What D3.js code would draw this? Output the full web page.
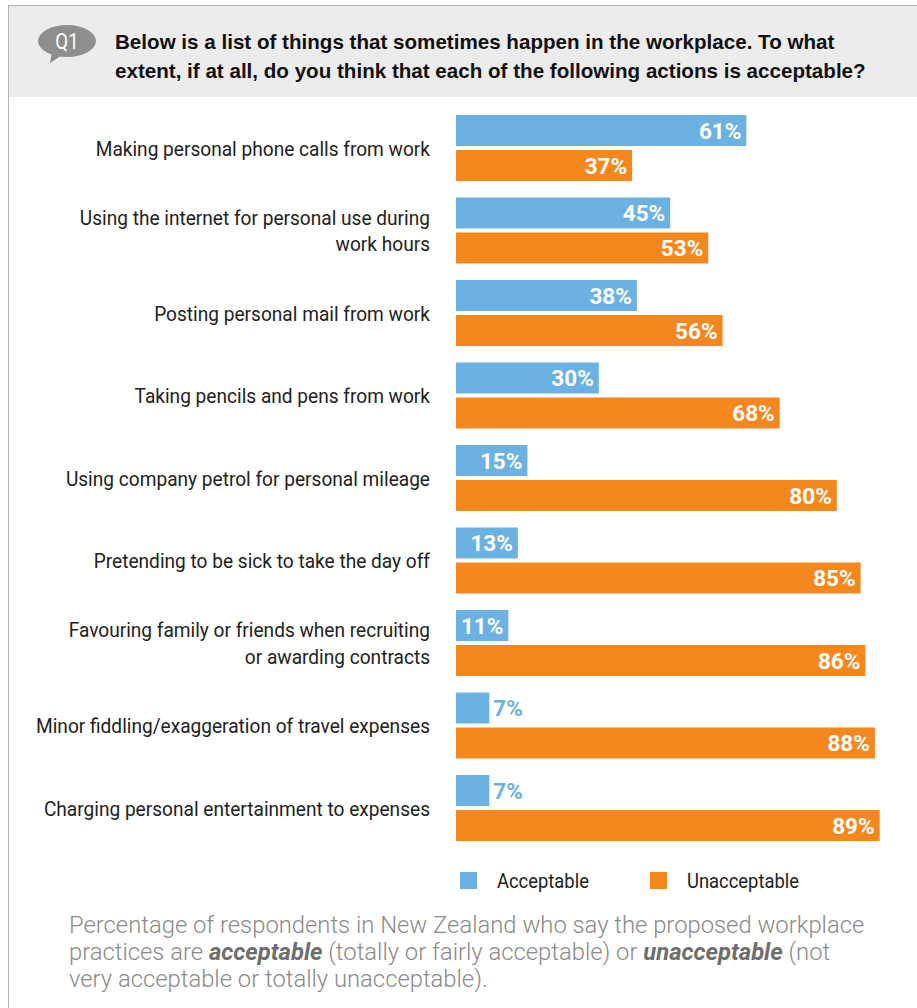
<!DOCTYPE html>
<html>
<head>
<meta charset="utf-8">
<script src="https://cdn.jsdelivr.net/npm/d3@7"></script>
<style>
  body { margin: 0; background: #fff; }
  svg { display: block; }
</style>
</head>
<body>
<div id="chart"></div>
<script>
// data
var categories = [
  ["Making personal phone calls from work"],
  ["Using the internet for personal use during", "work hours"],
  ["Posting personal mail from work"],
  ["Taking pencils and pens from work"],
  ["Using company petrol for personal mileage"],
  ["Pretending to be sick to take the day off"],
  ["Favouring family or friends when recruiting", "or awarding contracts"],
  ["Minor fiddling/exaggeration of travel expenses"],
  ["Charging personal entertainment to expenses"]
];
var acceptable   = [61, 45, 38, 30, 15, 13, 11, 7, 7];
var unacceptable = [37, 53, 56, 68, 80, 85, 86, 88, 89];
var seriesNames  = ["Acceptable", "Unacceptable"];

var width = 917, height = 1008;
var blue = "#6bb2e2", orange = "#f5871f";
var labelFont = "Roboto, 'Liberation Sans', sans-serif";

var svg = d3.select("#chart")
  .append("svg")
    .attr("width", width)
    .attr("height", height);

// frame + header band
svg.append("rect")
  .attr("x", 8.5).attr("y", 5.5)
  .attr("width", width).attr("height", height)
  .attr("fill", "#fff")
  .attr("stroke", "#b5b5b5");
svg.append("rect")
  .attr("x", 9).attr("y", 6)
  .attr("width", width).attr("height", 91)
  .attr("fill", "#ececec");

// Q1 speech bubble
svg.append("path")
  .attr("d", "M52,52 L50,63 L62,55 Z")
  .attr("fill", "#8e8e8e");
svg.append("ellipse")
  .attr("cx", 67).attr("cy", 41)
  .attr("rx", 29).attr("ry", 16)
  .attr("fill", "#8e8e8e");
svg.append("text")
  .attr("transform", "translate(67,49) scale(0.85,1)")
  .attr("text-anchor", "middle")
  .attr("fill", "#fff")
  .style("font-family", labelFont)
  .style("font-size", "22px")
  .text("Q1");

var title = ["Below is a list of things that sometimes happen in the workplace. To what",
             "extent, if at all, do you think that each of the following actions is acceptable?"];
svg.append("text")
  .attr("x", 115).attr("y", 49)
  .style("font-family", "'Liberation Sans', Arial, sans-serif")
  .style("font-size", "20.6px")
  .style("font-weight", "bold")
  .attr("fill", "#111")
  .selectAll("tspan")
  .data(title)
  .enter()
  .append("tspan")
    .attr("x", 115)
    .attr("dy", function(d, i) { return i == 0 ? 0 : 29; })
    .text(function(d) { return d; });

// scales
var x = d3.scaleLinear()
  .domain([0, 100])
  .range([456, 932]);

var y = d3.scaleBand()
  .domain(d3.range(categories.length))
  .range([115, 115 + 82.5 * categories.length]);

var barH = 31, gap = 4;

var groups = svg.selectAll(".grp")
  .data(categories)
  .enter()
  .append("g")
    .attr("class", "grp");

// category labels
groups.append("text")
  .attr("text-anchor", "end")
  .attr("fill", "#222")
  .style("font-family", labelFont)
  .style("font-size", "21px")
  .attr("transform", function(d, i) {
    var cy = y(i) + barH + gap / 2;
    return "translate(430," + cy + ") scale(0.91,1)";
  })
  .selectAll("tspan")
  .data(function(d) { return d; })
  .enter()
  .append("tspan")
    .attr("x", 0)
    .attr("y", function(d, j, nodes) {
      var n = nodes.length;
      return (j - (n - 1) / 2) * 27 + 7.5;
    })
    .text(function(d) { return d; });

// bars
groups.append("rect")
  .attr("x", x(0))
  .attr("y", function(d, i) { return y(i); })
  .attr("width", function(d, i) { return x(acceptable[i]) - x(0); })
  .attr("height", barH)
  .attr("fill", blue);

groups.append("rect")
  .attr("x", x(0))
  .attr("y", function(d, i) { return y(i) + barH + gap; })
  .attr("width", function(d, i) { return x(unacceptable[i]) - x(0); })
  .attr("height", barH)
  .attr("fill", orange);

// value labels
function valueLabel(vals, off, barColor) {
  groups.append("text")
    .attr("x", function(d, i) { return vals[i] >= 10 ? x(vals[i]) - 5 : x(vals[i]) + 4; })
    .attr("y", function(d, i) { return y(i) + off + barH / 2 + 8; })
    .attr("text-anchor", function(d, i) { return vals[i] >= 10 ? "end" : "start"; })
    .attr("fill", function(d, i) { return vals[i] >= 10 ? "#fff" : barColor; })
    .style("font-family", labelFont)
    .style("font-size", "22.5px")
    .style("font-weight", "bold")
    .text(function(d, i) { return vals[i] + "%"; });
}
valueLabel(acceptable, 0, blue);
valueLabel(unacceptable, barH + gap, orange);

// legend
var legend = svg.append("g")
  .attr("transform", "translate(460,872)");
var legendX = [0, 190];
seriesNames.forEach(function(name, i) {
  legend.append("rect")
    .attr("x", legendX[i]).attr("y", 0)
    .attr("width", 17).attr("height", 17)
    .attr("fill", i == 0 ? blue : orange);
  legend.append("text")
    .attr("transform", "translate(" + (legendX[i] + 37) + ",16) scale(0.92,1)")
    .attr("fill", "#222")
    .style("font-family", labelFont)
    .style("font-size", "20px")
    .text(name);
});

// footnote
var note = svg.append("text")
  .attr("fill", "#8a8a8a")
  .style("font-family", labelFont)
  .style("font-size", "23.8px")
  .style("font-weight", "300");
var noteLines = [
  [["Percentage of respondents in New Zealand who say the proposed workplace", false]],
  [["practices are ", false], ["acceptable", true], [" (totally or fairly acceptable) or ", false], ["unacceptable", true], [" (not", false]],
  [["very acceptable or totally unacceptable).", false]]
];
noteLines.forEach(function(line, li) {
  line.forEach(function(seg, si) {
    var t = note.append("tspan").text(seg[0]);
    if (si == 0) t.attr("x", 69).attr("y", 933 + li * 27);
    if (seg[1]) t.style("font-weight", "bold").style("font-style", "italic").attr("fill", "#6e6e6e");
  });
});
</script>
</body>
</html>
